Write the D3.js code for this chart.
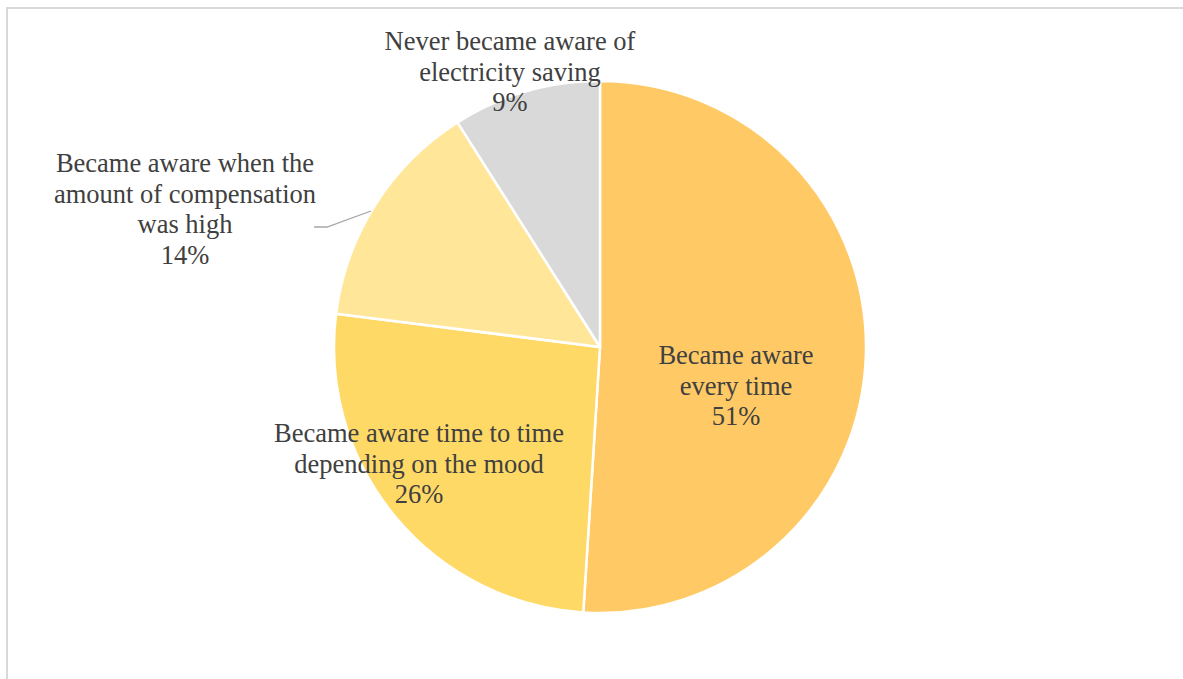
<!DOCTYPE html>
<html>
<head>
<meta charset="utf-8">
<script src="https://cdn.jsdelivr.net/npm/d3@7"></script>
<style>
  html, body { margin: 0; padding: 0; background: #fff; }
  svg { display: block; }
</style>
</head>
<body>
<svg id="chart" width="1183" height="679"></svg>
<script>
// Survey answers: awareness of electricity saving
const categories = [
  "Became aware every time",
  "Became aware time to time depending on the mood",
  "Became aware when the amount of compensation was high",
  "Never became aware of electricity saving"
];
const shares = [51, 26, 14, 9];
const labelLines = [
  ["Became aware", "every time"],
  ["Became aware time to time", "depending on the mood"],
  ["Became aware when the", "amount of compensation", "was high"],
  ["Never became aware of", "electricity saving"]
];
const colors = ["#FFCA65", "#FFD966", "#FFE699", "#D9D9D9"];

const svg = d3.select("#chart");
const W = 1183, H = 679;
const cx = 600, cy = 347, R = 266;

// chart area frame
svg.append("rect")
  .attr("x", 7).attr("y", 8)
  .attr("width", W + 20).attr("height", H + 20)
  .attr("fill", "none")
  .attr("stroke", "#D9D9D9")
  .attr("stroke-width", 2);

const data = categories.map((c, i) => ({ name: c, value: shares[i], lines: labelLines[i], color: colors[i] }));

const pie = d3.pie().value(d => d.value).sort(null);
const arcs = pie(data);
const arc = d3.arc().innerRadius(0).outerRadius(R);

const g = svg.append("g").attr("transform", `translate(${cx},${cy})`);

g.selectAll("path.slice")
  .data(arcs)
  .join("path")
  .attr("class", "slice")
  .attr("d", arc)
  .attr("fill", d => d.data.color)
  .attr("stroke", "#fff")
  .attr("stroke-width", 2.5)
  .attr("stroke-linejoin", "round");

// label anchor positions (centre x, first baseline), in page coordinates
const labelPos = [
  { x: 736, y: 364 },
  { x: 419, y: 442 },
  { x: 185, y: 172 },
  { x: 510, y: 50 }
];
const lineH = 30.7;

// leader line for the small slice whose label sits outside
svg.append("polyline")
  .attr("points", [[314, 227], [327, 227], [371, 211]].map(p => p.join(",")).join(" "))
  .attr("fill", "none")
  .attr("stroke", "#A6A6A6")
  .attr("stroke-width", 1.3);

const labels = svg.append("g")
  .attr("font-family", "'Liberation Serif', 'Times New Roman', serif")
  .attr("font-size", "26.5px")
  .attr("fill", "#404040")
  .attr("text-anchor", "middle");

arcs.forEach((a, i) => {
  const t = labels.append("text")
    .attr("x", labelPos[i].x)
    .attr("y", labelPos[i].y);
  const lines = a.data.lines.concat([d3.format(".0%")(a.data.value / 100)]);
  lines.forEach((ln, j) => {
    t.append("tspan")
      .attr("x", labelPos[i].x)
      .attr("y", labelPos[i].y + j * lineH)
      .text(ln);
  });
});
</script>
</body>
</html>
